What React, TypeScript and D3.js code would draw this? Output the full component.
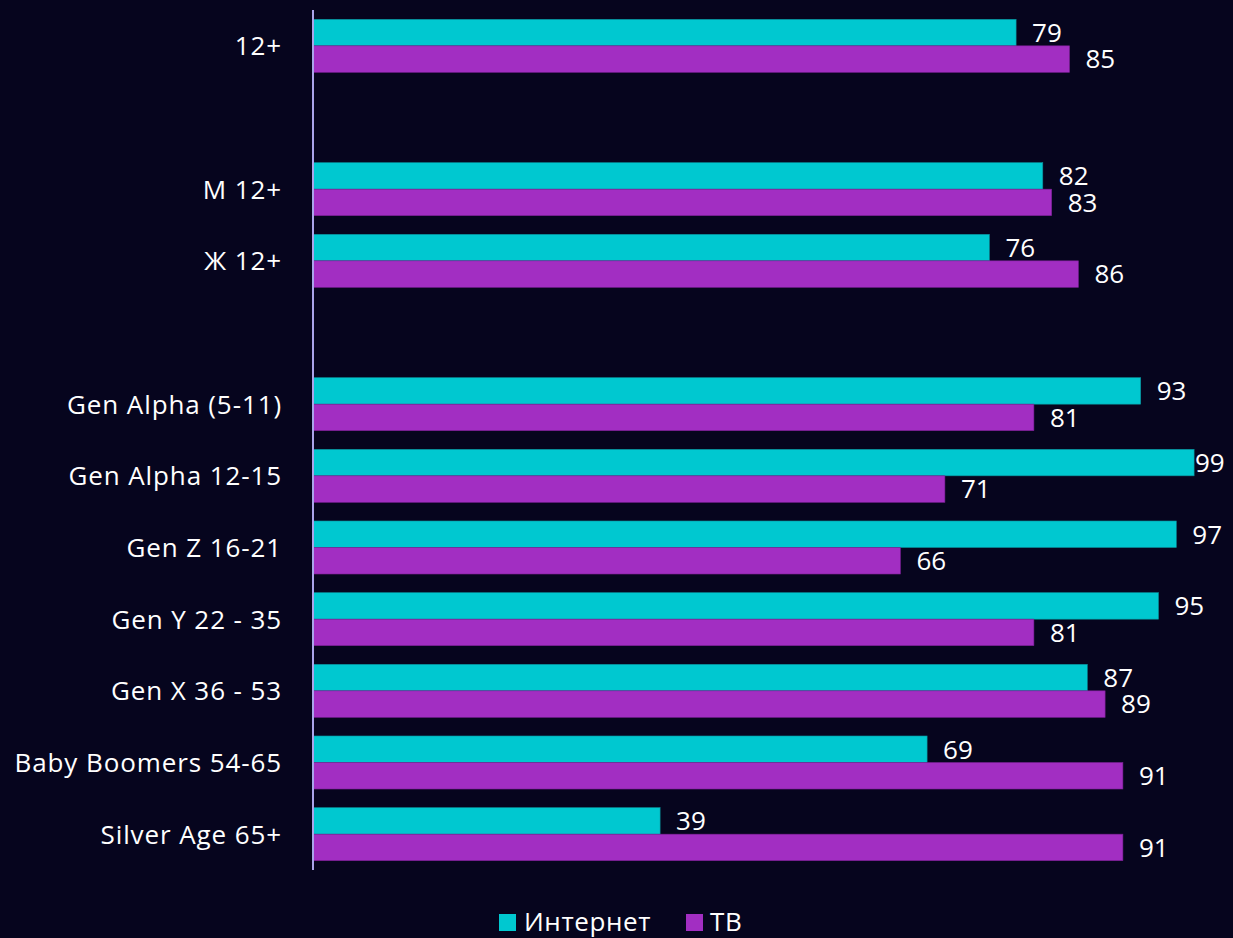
import React from "react";
import * as d3 from "d3";

const categories = [
  "12+",
  "",
  "М 12+",
  "Ж 12+",
  " ",
  "Gen Alpha (5-11)",
  "Gen Alpha 12-15",
  "Gen Z 16-21",
  "Gen Y 22 - 35",
  "Gen X 36 - 53",
  "Baby Boomers 54-65",
  "Silver Age 65+",
];
const internet = [79, null, 82, 76, null, 93, 99, 97, 95, 87, 69, 39];
const tv = [85, null, 83, 86, null, 81, 71, 66, 81, 89, 91, 91];
const seriesNames = ["Интернет", "ТВ"];
const colors = ["#00c8d0", "#a22ec2"];

const W = 1233;
const H = 938;
const font = "'Open Sans', sans-serif";

export default function App() {
  const x = d3.scaleLinear().domain([0, 100]).range([313, 313 + 890]);
  const y = d3.scaleBand().domain(categories).range([10, 870]).paddingInner(0.26).paddingOuter(0.13);
  const sub = d3.scaleBand().domain(["0", "1"]).range([0, y.bandwidth()]);
  const series = [internet, tv];

  return (
    <svg width={W} height={H} style={{ display: "block", position: "absolute", left: 0, top: 0, background: "#06051e" }}>
      <rect x={0} y={0} width={W} height={H} fill="#06051e" />
      {series.map((vals, si) =>
        vals.map((v, i) =>
          v == null ? null : (
            <g key={`${si}-${i}`}>
              <rect
                x={x(0)}
                y={(y(categories[i]) ?? 0) + (sub(String(si)) ?? 0)}
                width={x(v) - x(0)}
                height={sub.bandwidth()}
                fill={colors[si]}
                stroke={si === 0 ? "#0a8f99" : "#7a2093"}
                strokeWidth={0.6}
              />
              <text
                x={Math.min(x(v) + 16, 1195)}
                y={(y(categories[i]) ?? 0) + (sub(String(si)) ?? 0) + sub.bandwidth() / 2}
                dy="0.36em"
                fill="#ffffff"
                fontFamily={font}
                fontSize={26}
              >
                {v}
              </text>
            </g>
          )
        )
      )}
      <line x1={x(0)} x2={x(0)} y1={10} y2={870} stroke="#aaa4ea" strokeWidth={2} />
      {categories.map((c) =>
        c.trim() === "" ? null : (
          <text
            key={c}
            x={282}
            y={(y(c) ?? 0) + y.bandwidth() / 2}
            dy="0.36em"
            textAnchor="end"
            fill="#ffffff"
            fontFamily={font}
            fontSize={26}
            letterSpacing={0.9}
          >
            {c}
          </text>
        )
      )}
      <g fontFamily={font} fontSize={26} fill="#ffffff" letterSpacing={0.6}>
        <rect x={499} y={914} width={17} height={17} fill={colors[0]} />
        <text x={524} y={931}>{seriesNames[0]}</text>
        <rect x={686} y={914} width={17} height={17} fill={colors[1]} />
        <text x={710} y={931}>{seriesNames[1]}</text>
      </g>
    </svg>
  );
}
